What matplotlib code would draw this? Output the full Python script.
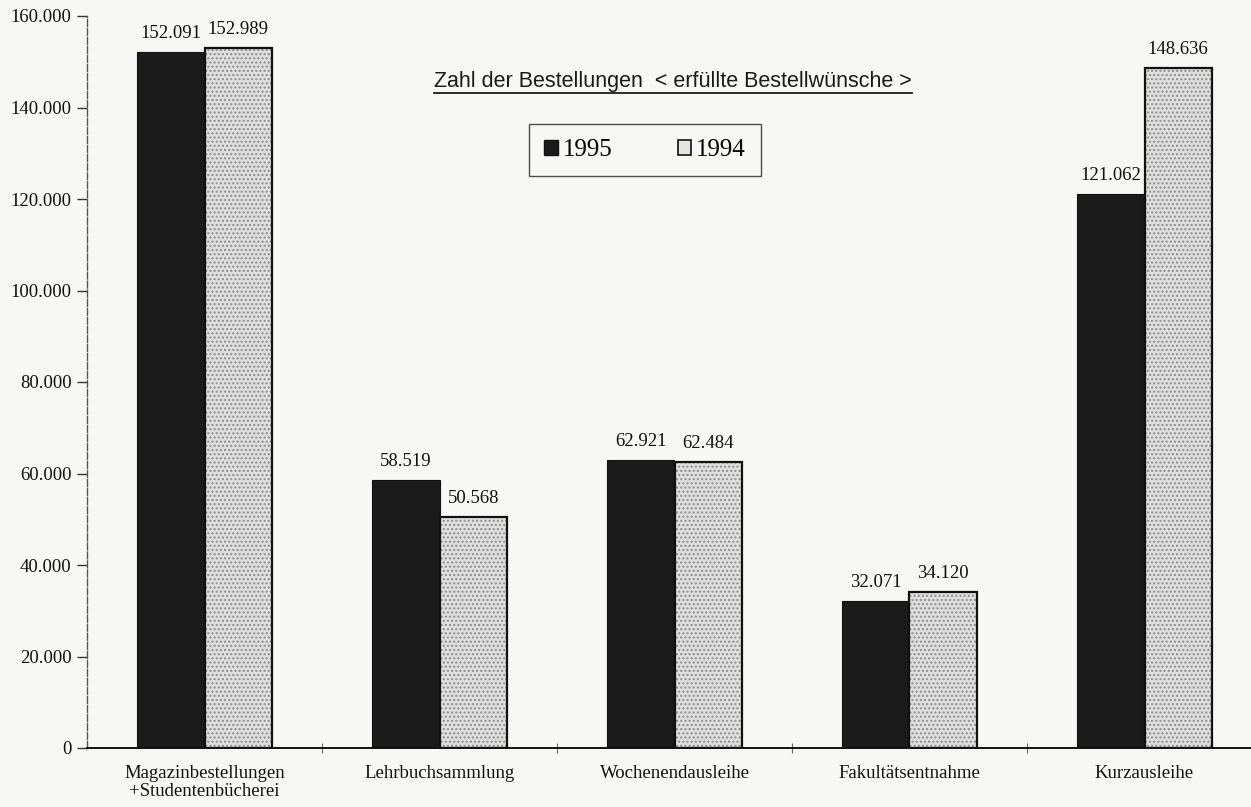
import numpy as np
import matplotlib
matplotlib.use("Agg")
from matplotlib import pyplot as plt
from matplotlib.lines import Line2D

categories = ["Magazinbestellungen\n+Studentenbücherei", "Lehrbuchsammlung",
              "Wochenendausleihe", "Fakultätsentnahme", "Kurzausleihe"]
values_1995 = [152091, 58519, 62921, 32071, 121062]
values_1994 = [152989, 50568, 62484, 34120, 148636]
y_ticks = [0, 20000, 40000, 60000, 80000, 100000, 120000, 140000, 160000]
title = "Zahl der Bestellungen  < erfüllte Bestellwünsche >"


def de_fmt(v):
    # german thousands separator
    return f"{v:,}".replace(",", ".")


serif = "Liberation Serif"
bg = "#f7f7f6"

fig = plt.figure(figsize=(12.51, 8.07), dpi=100, facecolor=bg)
ax = fig.add_axes([87 / 1251, 59 / 807, 1175 / 1251, 732 / 807])
ax.set_facecolor(bg)

x = np.arange(len(categories))
w = 0.287
dark, light = "#1b1b1b", "#dedede"

ax.bar(x - w / 2, values_1995, w, color=dark, edgecolor="#111111", linewidth=0.8)
# light bars: stippled fill + black outline drawn separately
ax.bar(x + w / 2, values_1994, w, color=light, edgecolor="#8c8c8c", linewidth=0, hatch="....")
ax.bar(x + w / 2, values_1994, w, fill=False, edgecolor="#111111", linewidth=1.6)

for xi, v in zip(x - w / 2, values_1995):
    ax.text(xi, v + 2200, de_fmt(v), ha="center", va="bottom", family=serif, fontsize=13.5, color="#111")
for xi, v in zip(x + w / 2, values_1994):
    ax.text(xi, v + 2200, de_fmt(v), ha="center", va="bottom", family=serif, fontsize=13.5, color="#111")

ax.set_xlim(-0.5, 4.5)
ax.set_ylim(0, 160000)
ax.set_yticks(y_ticks)
ax.set_yticklabels([de_fmt(t) for t in y_ticks], family=serif, fontsize=13.5, color="#111")
ax.set_xticks(x)
ax.set_xticklabels(categories, family=serif, fontsize=13.5, color="#111", linespacing=1.1)
ax.tick_params(axis="x", length=0, pad=12)
ax.set_xticks(x[:-1] + 0.5, minor=True)
ax.tick_params(axis="x", which="minor", length=7, direction="inout", color="#666", width=0.8)
ax.tick_params(axis="y", length=7, direction="out", color="#333", width=1, pad=4)

for s in ["top", "right"]:
    ax.spines[s].set_visible(False)
ax.spines["left"].set_color("#555555")
ax.spines["left"].set_linestyle((0, (5, 1.5)))
ax.spines["left"].set_linewidth(1.0)
ax.spines["bottom"].set_color("#111111")
ax.spines["bottom"].set_linewidth(1.4)

t = fig.text(673 / 1251, 1 - 81 / 807, title, ha="center", va="center",
             family="Liberation Sans", fontsize=15.5, color="#1a1a1a")

handles = [plt.Rectangle((0, 0), 1, 1, facecolor=dark, edgecolor="#111"),
           plt.Rectangle((0, 0), 1, 1, facecolor="#e4e4e4", edgecolor="#111", linewidth=1.2)]
leg = fig.legend(handles, ["1995", "1994"], loc="center", ncol=2,
                 bbox_to_anchor=(645 / 1251, 1 - 150 / 807),
                 prop={"family": serif, "size": 18}, frameon=True, fancybox=False,
                 edgecolor="#222222", facecolor=bg, handlelength=0.55, handleheight=0.55,
                 handletextpad=0.2, columnspacing=2.6, borderpad=0.6, borderaxespad=0)
leg.get_frame().set_linewidth(1.0)

# underline the title
fig.canvas.draw()
bb = t.get_window_extent().transformed(fig.transFigure.inverted())
fig.add_artist(Line2D([bb.x0, bb.x1], [bb.y0 - 0.002, bb.y0 - 0.002],
                      transform=fig.transFigure, color="#1a1a1a", linewidth=1.3))

fig.savefig("out.png", dpi=100, facecolor=bg)
